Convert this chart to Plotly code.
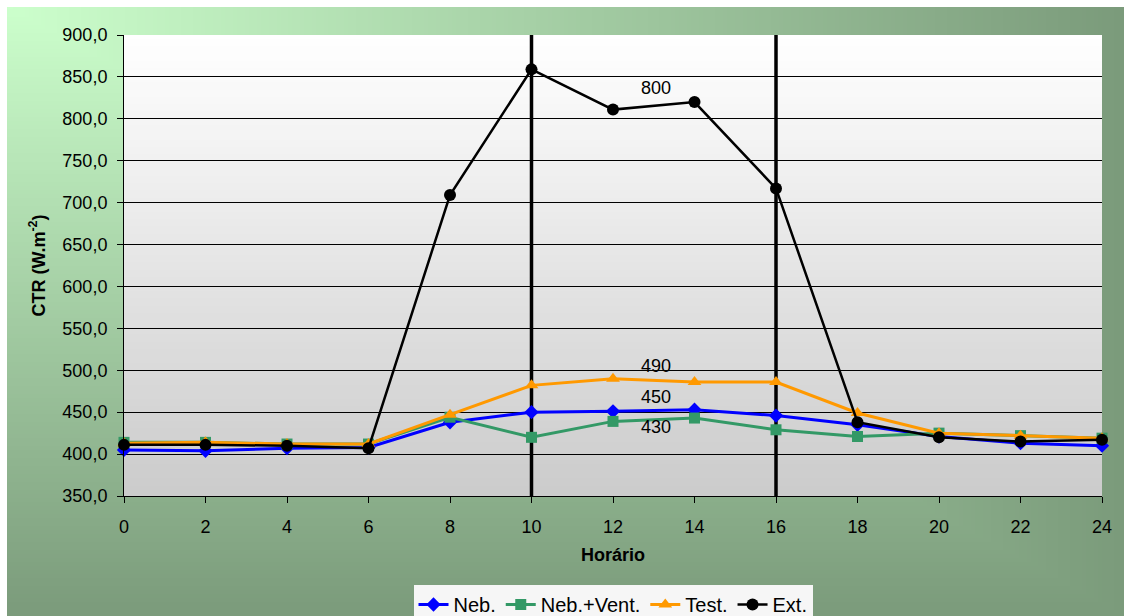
import base64
import struct
import zlib

import numpy as np
import plotly.graph_objects as go

# ---------------- data ----------------
hours = [0, 2, 4, 6, 8, 10, 12, 14, 16, 18, 20, 22, 24]
neb = [405, 404, 407, 408, 438, 450, 451, 453, 446, 435, 421, 413, 410]
neb_vent = [414, 414, 412, 412, 444, 420, 439, 443, 429, 421, 425, 422, 419]
test = [413, 414, 412, 412, 447, 482, 490, 486, 486, 449, 425, 422, 419]
ext = [411, 411, 410, 407, 709, 859, 811, 820, 717, 438, 420, 415, 417]

series_names = ["Neb.", "Neb.+Vent.", "Test.", "Ext."]
y_range = [350, 900]
marked_hours = [10, 16]
label_texts = ["800", "490", "450", "430"]
label_x = [13.05, 13.05, 13.05, 13.05]
label_y = [837, 505, 468, 432]


# ---------------- helpers for gradient backgrounds ----------------
def png_data_uri(rgb):
    h, w, _ = rgb.shape
    raw = b"".join(b"\x00" + rgb[i].tobytes() for i in range(h))

    def chunk(tag, data):
        c = struct.pack(">I", len(data)) + tag + data
        return c + struct.pack(">I", zlib.crc32(tag + data) & 0xFFFFFFFF)

    png = (b"\x89PNG\r\n\x1a\n"
           + chunk(b"IHDR", struct.pack(">IIBBBBB", w, h, 8, 2, 0, 0, 0))
           + chunk(b"IDAT", zlib.compress(raw, 9))
           + chunk(b"IEND", b""))
    return "data:image/png;base64," + base64.b64encode(png).decode()


def gradient(t, c0, c1):
    c0 = np.array(c0, dtype=float)
    c1 = np.array(c1, dtype=float)
    img = c0[None, None, :] + (c1 - c0)[None, None, :] * t[:, :, None]
    return np.clip(np.round(img), 0, 255).astype(np.uint8)


LIGHT = (204, 255, 204)
DARK = (123, 155, 123)

# ---------------- geometry ----------------
W, H = 1124, 640           # the window clips the bottom, as in the reference
VIS_H = 616
border = 7                 # white frame on the top and left
ml, mt = 124, 35
pw, ph = 978, 461
mr = W - ml - pw
mb = H - mt - ph

# outer "from corner" green gradient over the visible area
gw, gh = 280, 152
u = np.linspace(0, 1, gw)
v = np.linspace(0, 1, gh)
t_outer = np.maximum(u[None, :], v[:, None])
outer_img = png_data_uri(gradient(t_outer, LIGHT, DARK))

# plot area vertical gradient (white -> grey)
pv = np.linspace(0, 1, 64)
t_plot = np.repeat(pv[:, None], 2, axis=1)
plot_img = png_data_uri(gradient(t_plot, (255, 255, 255), (204, 204, 204)))


def px_x(p):   # page pixel -> paper fraction
    return (p - ml) / pw


def px_y(p):
    return 1 - (p - mt) / ph


# ---------------- figure ----------------
fig = go.Figure()

styles = [
    dict(color="#0000FF", symbol="diamond", size=11, width=3),
    dict(color="#339966", symbol="square", size=11, width=3),
    dict(color="#FF9900", symbol="triangle-up", size=12, width=3),
    dict(color="#000000", symbol="circle", size=12, width=2.5),
]
for name, vals, st in zip(series_names, [neb, neb_vent, test, ext], styles):
    fig.add_trace(go.Scatter(
        x=hours, y=vals, name=name, mode="lines+markers",
        line=dict(color=st["color"], width=st["width"]),
        marker=dict(color=st["color"], symbol=st["symbol"], size=st["size"],
                    line=dict(width=0)),
        cliponaxis=False,
    ))

for h in marked_hours:
    fig.add_shape(type="line", xref="x", yref="y", x0=h, x1=h,
                  y0=y_range[0], y1=y_range[1],
                  line=dict(color="black", width=3.5), layer="between")

# white frame on top and left (drawn over the paper colour)
fig.add_shape(type="rect", xref="paper", yref="paper", layer="below",
              x0=px_x(0), x1=px_x(W), y0=px_y(border), y1=px_y(0),
              line=dict(width=0), fillcolor="white")
fig.add_shape(type="rect", xref="paper", yref="paper", layer="below",
              x0=px_x(0), x1=px_x(border), y0=px_y(H), y1=px_y(0),
              line=dict(width=0), fillcolor="white")

for txt, lx, ly in zip(label_texts, label_x, label_y):
    fig.add_annotation(x=lx, y=ly, text=txt, showarrow=False,
                       font=dict(size=18, color="black"))

fig.add_layout_image(dict(
    source=outer_img, xref="paper", yref="paper",
    x=px_x(border), y=px_y(border),
    sizex=(W - border) / pw, sizey=(VIS_H - border) / ph,
    xanchor="left", yanchor="top", sizing="stretch", layer="below"))
fig.add_layout_image(dict(
    source=plot_img, xref="x", yref="y",
    x=hours[0], y=y_range[1], sizex=hours[-1] - hours[0],
    sizey=y_range[1] - y_range[0],
    xanchor="left", yanchor="top", sizing="stretch", layer="below"))

fig.update_layout(
    width=W, height=H,
    margin=dict(l=ml, r=mr, t=mt, b=mb),
    paper_bgcolor="rgb(%d,%d,%d)" % DARK,
    plot_bgcolor="rgba(0,0,0,0)",
    separators=",.",
    font=dict(family="Liberation Sans, Arial, sans-serif", size=18, color="black"),
    showlegend=True,
    legend=dict(orientation="h", x=0.5, xanchor="center",
                y=px_y(585), yanchor="top",
                bgcolor="#f6f6f6", borderwidth=0,
                font=dict(size=20), itemwidth=30, tracegroupgap=0),
    xaxis=dict(range=[hours[0], hours[-1]], tickvals=hours,
               ticks="outside", ticklen=6, tickcolor="black",
               showline=True, linecolor="black", linewidth=1,
               showgrid=False, zeroline=False, ticklabelstandoff=8,
               title=dict(text="<b>Horário</b>", standoff=12,
                          font=dict(size=18))),
    yaxis=dict(range=y_range, dtick=50, tick0=350, tickformat=".1f",
               ticks="outside", ticklen=6, tickcolor="black",
               showline=True, linecolor="black", linewidth=1,
               showgrid=True, gridcolor="black", gridwidth=1,
               zeroline=False, ticklabelstandoff=6,
               title=dict(text="<b>CTR (W.m<sup>-2</sup>)</b>", standoff=12,
                          font=dict(size=18))),
)

fig.write_html(
    "out.html",
    config={"displayModeBar": False},
    post_script="document.documentElement.style.overflow='hidden';"
                "document.body.style.margin='0';",
)
